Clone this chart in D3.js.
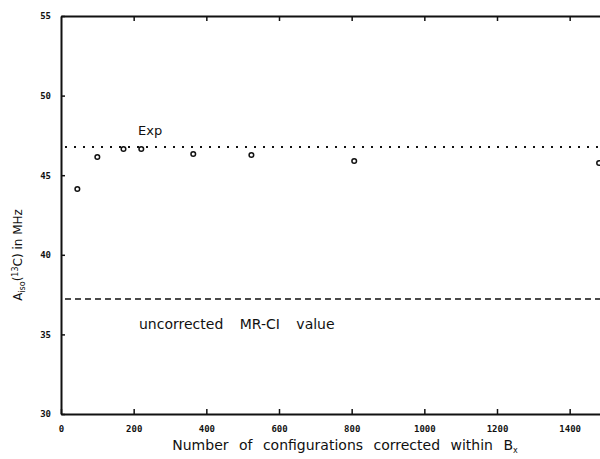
<!DOCTYPE html>
<html>
<head>
<meta charset="utf-8">
<script src="https://cdn.jsdelivr.net/npm/d3@7"></script>
<style>
  body { margin: 0; background: #fff; }
  text { font-family: "DejaVu Sans", sans-serif; fill: #111; }
</style>
</head>
<body>
<script>
// number of configurations corrected
let configs = [45, 100, 172, 221, 364, 524, 807, 1481];
// A_iso values in MHz
let aiso = [44.13, 46.14, 46.65, 46.65, 46.33, 46.27, 45.89, 45.77];
let expValue = 46.77;
let uncorrected = 37.22;
let xTicks = [0, 200, 400, 600, 800, 1000, 1200, 1400];
let yTicks = [30, 35, 40, 45, 50, 55];

let width = 600, height = 459;

let svg = d3.select('body')
  .append('svg')
  .attr('width', width)
  .attr('height', height);

// plot runs off the right edge like the scan
let x = d3.scaleLinear().domain([0, 1500]).range([61, 606]);
let y = d3.scaleLinear().domain([30, 55]).range([414, 16]);

// bottom axis, ticks pointing up
let xAxis = svg.append('g')
  .attr('transform', 'translate(0,' + y(30) + ')')
  .call(d3.axisBottom(x).tickValues(xTicks).tickFormat(d3.format('d'))
    .tickSizeInner(-5).tickSizeOuter(0).tickPadding(10));

// top axis, ticks pointing down, no labels
svg.append('g')
  .attr('transform', 'translate(0,' + y(55) + ')')
  .call(d3.axisTop(x).tickValues(xTicks.slice(1)).tickSizeInner(-5).tickSizeOuter(0).tickFormat(''));

// left axis, ticks pointing right
let yAxis = svg.append('g')
  .attr('transform', 'translate(' + x(0) + ',0)')
  .call(d3.axisLeft(y).tickValues(yTicks).tickSizeInner(-4).tickSizeOuter(0).tickPadding(10));

svg.selectAll('.domain').attr('stroke', '#111').attr('stroke-width', 2);
svg.selectAll('.tick line').attr('stroke', '#111').attr('stroke-width', 1.5);
svg.selectAll('.tick text')
  .style('font-size', '9px')
  .style('font-weight', 'bold')
  .style('font-family', '"DejaVu Sans Mono", monospace');
xAxis.selectAll('.tick text').attr('dy', '0.9em');

// experimental value, dotted
svg.append('line')
  .attr('x1', x(0) + 4).attr('x2', width)
  .attr('y1', y(expValue)).attr('y2', y(expValue))
  .attr('stroke', '#111')
  .attr('stroke-width', 2)
  .attr('stroke-dasharray', '2,7');

svg.append('text')
  .attr('x', 138).attr('y', y(expValue) - 12)
  .style('font-size', '13px')
  .text('Exp');

// uncorrected MR-CI value, dashed
svg.append('line')
  .attr('x1', x(0) + 4).attr('x2', width)
  .attr('y1', y(uncorrected)).attr('y2', y(uncorrected))
  .attr('stroke', '#111')
  .attr('stroke-width', 1.5)
  .attr('stroke-dasharray', '6,4');

svg.append('text')
  .attr('x', 139).attr('y', y(uncorrected) + 30)
  .style('font-size', '14px')
  .style('word-spacing', '12px')
  .text('uncorrected MR-CI value');

// data points
svg.selectAll('circle.pt')
  .data(configs)
  .enter()
  .append('circle')
  .attr('class', 'pt')
  .attr('cx', function (d) { return x(d); })
  .attr('cy', function (d, i) { return y(aiso[i]); })
  .attr('r', 2.3)
  .attr('fill', 'none')
  .attr('stroke', '#111')
  .attr('stroke-width', 1.5);

// x axis title
let xt = svg.append('text')
  .attr('x', 345).attr('y', 450)
  .attr('text-anchor', 'middle')
  .style('font-size', '14px')
  .style('word-spacing', '6px');
xt.append('tspan').text('Number of configurations corrected within B');
xt.append('tspan').attr('dy', 3).style('font-size', '8px').text('x');

// y axis title
let yt = svg.append('text')
  .attr('transform', 'translate(22,255) rotate(-90)')
  .attr('text-anchor', 'middle')
  .style('font-size', '12px');
yt.append('tspan').text('A');
yt.append('tspan').attr('dy', 3).style('font-size', '8px').text('iso');
yt.append('tspan').attr('dy', -3).text('(');
yt.append('tspan').attr('dy', -4).style('font-size', '8px').text('13');
yt.append('tspan').attr('dy', 4).text('C) in MHz');
</script>
</body>
</html>
